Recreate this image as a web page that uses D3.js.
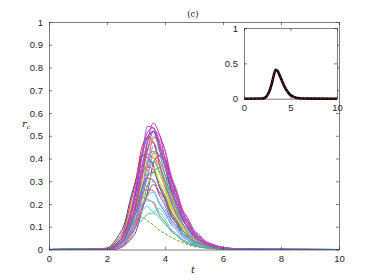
<!DOCTYPE html>
<html>
<head>
<meta charset="utf-8">
<script src="https://cdn.jsdelivr.net/npm/d3@7"></script>
<style>
  body { margin: 0; background: #fff; }
  text { font-family: "Liberation Sans", Arial, sans-serif; }
</style>
</head>
<body>
<div class="chart"></div>
<script>
var svgWidth = 374;
var svgHeight = 280;

// time grid shared by all runs
var times = [0, 2.0, 2.2, 2.4, 2.6, 2.8, 3.0, 3.2, 3.4, 3.6, 3.8, 4.0, 4.2, 4.4, 4.6, 4.8, 5.0, 5.2, 5.4, 5.6, 5.8, 6.0, 6.5, 7.0, 10];

// r_c of each stochastic run
var runs = [
  [0, 0, 0.005, 0.021, 0.052, 0.1, 0.208, 0.322, 0.472, 0.52, 0.505, 0.4, 0.325, 0.222, 0.17, 0.106, 0.078, 0.045, 0.033, 0.018, 0.013, 0.008, 0.002, 0.001, 0],
  [0, 0.005, 0.018, 0.045, 0.085, 0.178, 0.27, 0.405, 0.44, 0.428, 0.338, 0.274, 0.186, 0.146, 0.09, 0.067, 0.038, 0.028, 0.015, 0.011, 0.007, 0.004, 0.001, 0, 0],
  [0, 0.002, 0.01, 0.031, 0.062, 0.138, 0.228, 0.37, 0.445, 0.47, 0.395, 0.328, 0.232, 0.18, 0.116, 0.086, 0.05, 0.036, 0.02, 0.014, 0.009, 0.006, 0.001, 0, 0],
  [0, 0, 0.002, 0.012, 0.026, 0.07, 0.122, 0.238, 0.342, 0.455, 0.44, 0.405, 0.305, 0.242, 0.164, 0.124, 0.077, 0.055, 0.032, 0.022, 0.014, 0.009, 0.003, 0.001, 0],
  [0, 0.003, 0.011, 0.035, 0.069, 0.152, 0.252, 0.404, 0.495, 0.52, 0.438, 0.362, 0.258, 0.198, 0.13, 0.095, 0.057, 0.04, 0.023, 0.016, 0.01, 0.006, 0.002, 0.001, 0],
  [0, 0, 0.004, 0.016, 0.044, 0.082, 0.175, 0.265, 0.395, 0.432, 0.418, 0.33, 0.268, 0.182, 0.141, 0.088, 0.065, 0.038, 0.027, 0.016, 0.011, 0.007, 0.002, 0, 0],
  [0, 0.005, 0.026, 0.062, 0.112, 0.218, 0.31, 0.415, 0.404, 0.37, 0.278, 0.222, 0.149, 0.114, 0.07, 0.051, 0.029, 0.021, 0.012, 0.008, 0.005, 0.003, 0.001, 0, 0],
  [0, 0, 0, 0.004, 0.017, 0.042, 0.079, 0.168, 0.252, 0.378, 0.412, 0.398, 0.315, 0.255, 0.175, 0.135, 0.084, 0.062, 0.036, 0.025, 0.016, 0.01, 0.003, 0.001, 0],
  [0, 0.005, 0.02, 0.048, 0.095, 0.198, 0.302, 0.448, 0.492, 0.472, 0.378, 0.302, 0.21, 0.16, 0.1, 0.074, 0.043, 0.031, 0.018, 0.012, 0.008, 0.005, 0.001, 0, 0],
  [0, 0, 0.005, 0.022, 0.04, 0.104, 0.18, 0.312, 0.43, 0.498, 0.448, 0.377, 0.282, 0.218, 0.146, 0.108, 0.066, 0.046, 0.027, 0.018, 0.012, 0.007, 0.002, 0, 0],
  [0, 0.002, 0.009, 0.027, 0.052, 0.118, 0.192, 0.312, 0.38, 0.4, 0.336, 0.28, 0.198, 0.153, 0.1, 0.073, 0.044, 0.03, 0.018, 0.012, 0.008, 0.005, 0.001, 0, 0],
  [0, 0, 0.004, 0.017, 0.031, 0.082, 0.138, 0.244, 0.326, 0.388, 0.345, 0.3, 0.218, 0.168, 0.113, 0.083, 0.05, 0.036, 0.021, 0.014, 0.009, 0.006, 0.002, 0, 0],
  [0, 0.004, 0.015, 0.036, 0.07, 0.148, 0.222, 0.334, 0.362, 0.352, 0.278, 0.225, 0.153, 0.12, 0.074, 0.055, 0.031, 0.022, 0.013, 0.009, 0.006, 0.003, 0.001, 0, 0],
  [0, 0, 0.002, 0.008, 0.025, 0.046, 0.108, 0.174, 0.282, 0.342, 0.36, 0.302, 0.252, 0.178, 0.138, 0.09, 0.066, 0.039, 0.027, 0.016, 0.011, 0.007, 0.002, 0.001, 0],
  [0, 0, 0.003, 0.015, 0.027, 0.071, 0.12, 0.212, 0.283, 0.338, 0.3, 0.26, 0.189, 0.147, 0.098, 0.072, 0.044, 0.031, 0.018, 0.012, 0.008, 0.005, 0.001, 0, 0],
  [0, 0.003, 0.013, 0.031, 0.06, 0.128, 0.192, 0.29, 0.313, 0.305, 0.24, 0.195, 0.133, 0.103, 0.064, 0.047, 0.028, 0.02, 0.011, 0.008, 0.005, 0.003, 0.001, 0, 0],
  [0, 0.002, 0.007, 0.021, 0.039, 0.089, 0.145, 0.235, 0.285, 0.3, 0.252, 0.21, 0.148, 0.115, 0.075, 0.055, 0.034, 0.023, 0.013, 0.009, 0.006, 0.004, 0.001, 0, 0],
  [0, 0, 0.003, 0.012, 0.023, 0.06, 0.101, 0.18, 0.24, 0.286, 0.254, 0.222, 0.16, 0.124, 0.084, 0.061, 0.037, 0.026, 0.015, 0.01, 0.007, 0.004, 0.001, 0, 0],
  [0, 0.003, 0.011, 0.026, 0.05, 0.108, 0.162, 0.245, 0.264, 0.258, 0.202, 0.164, 0.112, 0.087, 0.055, 0.04, 0.023, 0.017, 0.01, 0.006, 0.004, 0.002, 0.001, 0, 0],
  [0, 0.001, 0.006, 0.018, 0.032, 0.075, 0.12, 0.196, 0.236, 0.252, 0.21, 0.175, 0.124, 0.096, 0.063, 0.046, 0.028, 0.019, 0.011, 0.008, 0.005, 0.003, 0.001, 0, 0],
  [0, 0.005, 0.014, 0.034, 0.06, 0.12, 0.17, 0.228, 0.22, 0.204, 0.151, 0.121, 0.082, 0.062, 0.038, 0.027, 0.016, 0.011, 0.007, 0.004, 0.003, 0.002, 0, 0, 0],
  [0, 0.002, 0.009, 0.022, 0.041, 0.088, 0.131, 0.2, 0.214, 0.21, 0.164, 0.134, 0.092, 0.07, 0.044, 0.032, 0.019, 0.013, 0.008, 0.005, 0.003, 0.002, 0.001, 0, 0],
  [0, 0.002, 0.008, 0.02, 0.04, 0.07, 0.1, 0.13, 0.155, 0.16, 0.14, 0.11, 0.085, 0.062, 0.044, 0.03, 0.02, 0.013, 0.008, 0.005, 0.003, 0.002, 0, 0, 0],
  [0, 0.003, 0.012, 0.03, 0.06, 0.1, 0.14, 0.17, 0.19, 0.165, 0.18, 0.15, 0.12, 0.095, 0.07, 0.05, 0.034, 0.022, 0.014, 0.009, 0.006, 0.004, 0.001, 0, 0],
  [0, 0.004, 0.015, 0.035, 0.065, 0.1, 0.13, 0.143, 0.125, 0.108, 0.085, 0.07, 0.055, 0.042, 0.03, 0.021, 0.015, 0.01, 0.007, 0.005, 0.003, 0.002, 0.001, 0, 0],
  [0, 0, 0.002, 0.011, 0.024, 0.066, 0.113, 0.224, 0.318, 0.425, 0.412, 0.378, 0.284, 0.226, 0.152, 0.117, 0.071, 0.052, 0.029, 0.021, 0.013, 0.008, 0.002, 0.001, 0],
  [0, 0.002, 0.008, 0.025, 0.046, 0.108, 0.172, 0.283, 0.34, 0.362, 0.3, 0.253, 0.176, 0.139, 0.089, 0.066, 0.038, 0.028, 0.015, 0.011, 0.007, 0.004, 0.001, 0, 0],
  [0, 0, 0.003, 0.013, 0.028, 0.076, 0.132, 0.258, 0.372, 0.492, 0.482, 0.438, 0.332, 0.262, 0.178, 0.135, 0.083, 0.061, 0.035, 0.025, 0.015, 0.01, 0.003, 0.001, 0],
  [0, 0, 0.005, 0.023, 0.042, 0.108, 0.186, 0.325, 0.44, 0.518, 0.465, 0.4, 0.293, 0.226, 0.151, 0.112, 0.067, 0.049, 0.028, 0.02, 0.012, 0.008, 0.002, 0.001, 0],
  [0, 0.003, 0.012, 0.036, 0.071, 0.158, 0.262, 0.418, 0.515, 0.536, 0.455, 0.374, 0.268, 0.206, 0.134, 0.1, 0.058, 0.042, 0.023, 0.017, 0.01, 0.006, 0.002, 0.001, 0],
  [0, 0.003, 0.012, 0.031, 0.081, 0.148, 0.282, 0.41, 0.542, 0.532, 0.48, 0.366, 0.288, 0.198, 0.148, 0.092, 0.066, 0.038, 0.027, 0.016, 0.01, 0.007, 0.002, 0.001, 0],
  [0, 0, 0.006, 0.024, 0.047, 0.116, 0.204, 0.352, 0.48, 0.556, 0.508, 0.435, 0.32, 0.246, 0.166, 0.122, 0.074, 0.053, 0.03, 0.022, 0.013, 0.008, 0.002, 0.001, 0],
  [0, 0.002, 0.009, 0.023, 0.063, 0.112, 0.218, 0.31, 0.418, 0.404, 0.37, 0.279, 0.22, 0.15, 0.113, 0.07, 0.05, 0.029, 0.021, 0.012, 0.008, 0.005, 0.001, 0, 0],
  [0, 0.002, 0.007, 0.023, 0.045, 0.1, 0.164, 0.266, 0.322, 0.34, 0.285, 0.237, 0.168, 0.13, 0.085, 0.062, 0.037, 0.026, 0.015, 0.01, 0.006, 0.004, 0.001, 0, 0]
];

var runColors = [
  "#c03090", "#c8c820", "#a050e0", "#20a0a0", "#3050d0", "#40c040",
  "#2040a0", "#9030a0", "#e03030", "#b0e020", "#a0e030", "#30c0d0",
  "#e04080", "#60b060", "#c0e040", "#c030c0", "#20b0a0", "#d04040",
  "#7080d0", "#40d0e0", "#60a040", "#a0a0ff", "#40c0c0", "#5ad0e8",
  "#70a030", "#d060d0", "#e0e030", "#e050e0", "#b040c0", "#8040c0",
  "#d040d0", "#c040a0", "#d06090", "#3b7fb5"
];

// runs drawn dashed in the figure
var dashedRuns = [3, 16, 24];

// mean curve in the inset and its fit
var meanValues = [0, 0.002, 0.01, 0.03, 0.07, 0.13, 0.22, 0.33, 0.41, 0.395, 0.34, 0.28, 0.215, 0.16, 0.115, 0.08, 0.053, 0.035, 0.022, 0.014, 0.009, 0.006, 0.002, 0.001, 0];
var fitValues = [0, 0.002, 0.01, 0.03, 0.068, 0.128, 0.218, 0.33, 0.41, 0.4, 0.345, 0.285, 0.22, 0.163, 0.118, 0.082, 0.055, 0.036, 0.023, 0.015, 0.01, 0.006, 0.002, 0.001, 0];

var xTicks = [0, 2, 4, 6, 8, 10];
var yTicks = [0, 0.1, 0.2, 0.3, 0.4, 0.5, 0.6, 0.7, 0.8, 0.9, 1];
var insetXTicks = [0, 5, 10];
var insetYTicks = [0, 0.5, 1];

var svg = d3.select(".chart")
  .append("svg")
  .attr("width", svgWidth)
  .attr("height", svgHeight);

var axisColor = "#262626";

// main scales
var xScale = d3.scaleLinear().domain([0, 10]).range([49, 339]);
var yScale = d3.scaleLinear().domain([0, 1]).range([249.5, 22]);

// runs
var line = d3.line()
  .x((d, i) => xScale(times[i]))
  .y(d => yScale(d))
  .curve(d3.curveMonotoneX);

svg.append("g")
  .selectAll("path")
  .data(runs)
  .enter()
  .append("path")
  .attr("d", line)
  .attr("fill", "none")
  .attr("stroke", (d, i) => runColors[i % runColors.length])
  .attr("stroke-width", 1)
  .attr("stroke-dasharray", (d, i) => dashedRuns.indexOf(i) >= 0 ? "3,1.5" : null);

// axes with inward ticks, box on
function drawAxes(g, xs, ys, xt, yt, fmtY) {
  var bottom = d3.axisBottom(xs).tickValues(xt).tickSizeInner(-3).tickSizeOuter(0).tickPadding(6);
  var top = d3.axisTop(xs).tickValues(xt).tickSizeInner(-3).tickSizeOuter(0).tickFormat("");
  var left = d3.axisLeft(ys).tickValues(yt).tickSizeInner(-3).tickSizeOuter(0).tickPadding(6).tickFormat(fmtY);
  var right = d3.axisRight(ys).tickValues(yt).tickSizeInner(-3).tickSizeOuter(0).tickFormat("");

  var y0 = ys.range()[0], y1 = ys.range()[1];
  var x0 = xs.range()[0], x1 = xs.range()[1];

  [[bottom, `translate(0,${y0})`], [top, `translate(0,${y1})`],
   [left, `translate(${x0},0)`], [right, `translate(${x1},0)`]].forEach(function (a) {
    var ax = g.append("g").attr("transform", a[1]).call(a[0]);
    ax.selectAll("path, line").attr("stroke", axisColor).attr("stroke-width", 0.6);
    ax.selectAll("text").attr("fill", axisColor).style("font-size", "9.5px");
  });
}

drawAxes(svg.append("g"), xScale, yScale, xTicks, yTicks, d3.format("~g"));

// inset
var ix = d3.scaleLinear().domain([0, 10]).range([244, 337]);
var iy = d3.scaleLinear().domain([0, 1]).range([98.7, 28]);

var inset = svg.append("g");
inset.append("rect")
  .attr("x", 244).attr("y", 28)
  .attr("width", 93).attr("height", 70.7)
  .attr("fill", "#fff");

var insetLine = d3.line()
  .x((d, i) => ix(times[i]))
  .y(d => iy(d))
  .curve(d3.curveMonotoneX);

inset.append("path")
  .attr("d", insetLine(meanValues))
  .attr("fill", "none")
  .attr("stroke", "#000")
  .attr("stroke-width", 2.6);

inset.append("path")
  .attr("d", insetLine(fitValues))
  .attr("fill", "none")
  .attr("stroke", "#d02020")
  .attr("stroke-width", 0.8)
  .attr("stroke-dasharray", "2,2");

drawAxes(inset, ix, iy, insetXTicks, insetYTicks, d3.format("~g"));

// labels
svg.append("text")
  .attr("x", 193).attr("y", 17)
  .attr("text-anchor", "middle")
  .style("font-family", "'DejaVu Serif', serif")
  .style("font-size", "8.5px")
  .attr("fill", "#222")
  .text("(c)");

var yLab = svg.append("text")
  .attr("x", 22).attr("y", 127)
  .style("font-family", "'DejaVu Serif', serif")
  .style("font-style", "italic")
  .style("font-size", "10px")
  .attr("fill", "#222");
yLab.append("tspan").text("r");
yLab.append("tspan").attr("dy", 2).style("font-size", "6px").text("c");

svg.append("text")
  .attr("x", 193).attr("y", 273)
  .attr("text-anchor", "middle")
  .style("font-family", "'DejaVu Serif', serif")
  .style("font-style", "italic")
  .style("font-size", "10px")
  .attr("fill", "#222")
  .text("t");
</script>
</body>
</html>
